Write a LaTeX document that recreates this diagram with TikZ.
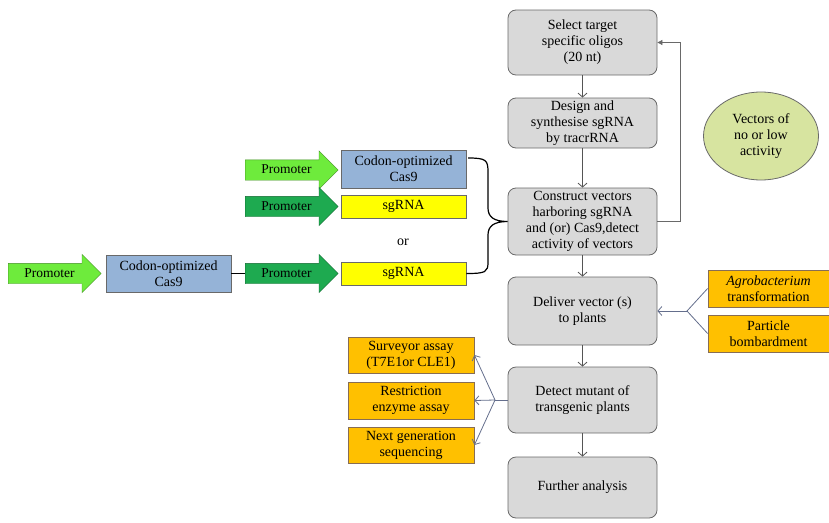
\documentclass[tikz,border=0pt]{standalone}
\usepackage{fontspec}
\setmainfont{Liberation Serif}
\usetikzlibrary{shapes.geometric,shapes.arrows,arrows.meta}
\definecolor{boxgray}{RGB}{217,217,217}
\definecolor{edgegray}{RGB}{105,105,105}
\definecolor{linegray}{RGB}{85,85,85}
\definecolor{forkblue}{RGB}{100,110,140}
\definecolor{cas9blue}{RGB}{149,179,215}
\definecolor{rnayellow}{RGB}{255,255,0}
\definecolor{assayorange}{RGB}{255,192,0}
\definecolor{lightgreen}{RGB}{110,235,60}
\definecolor{darkgreen}{RGB}{30,170,80}
\definecolor{lowolive}{RGB}{215,228,160}
\begin{document}
\begin{tikzpicture}[x=1pt,y=-1pt,
    every node/.style={font=\fontsize{14}{16}\selectfont, align=center, inner sep=0pt},
    stepbox/.style={draw=edgegray, fill=boxgray, rounded corners=8pt, minimum width=149pt, line width=0.8pt},
    assaybox/.style={draw=edgegray!80!orange, fill=assayorange, line width=0.8pt},
    genebox/.style={draw=edgegray, minimum width=125pt, line width=0.8pt},
    promoter/.style={single arrow, draw=#1!60!black, fill=#1, single arrow head extend=9pt,
      minimum height=93pt, text height=9pt, text depth=2pt, inner ysep=4.5pt, anchor=tail,
      font=\fontsize{13.5}{15}\selectfont},
    flow/.style={draw=linegray, line width=0.8pt, -{Straight Barb[length=4pt,width=9pt]}},
    fork/.style={draw=forkblue, line width=0.8pt},
    forkflow/.style={fork, -{Straight Barb[length=4pt,width=9pt]}}]
  \useasboundingbox (0,0) rectangle (829,522);
  \node [stepbox, minimum height=65pt] (sel) at (582.5,42.5) {Select target\\specific oligos\\(20 nt)};
  \node [stepbox, minimum height=50pt] (des) at (582.5,123) {Design and\\synthesise sgRNA\\by tracrRNA};
  \node [stepbox, minimum height=67pt] (con) at (582.5,221.5) {Construct vectors\\harboring sgRNA\\and (or) Cas9,detect\\activity of vectors};
  \node [stepbox, minimum height=68pt] (del) at (582.5,311) {Deliver vector (s)\\to plants};
  \node [stepbox, minimum height=66pt] (det) at (582.5,400) {Detect mutant of\\transgenic plants};
  \node [stepbox, minimum height=61pt] (fur) at (582.5,487.5) {Further analysis};
  \node [ellipse, draw=edgegray, fill=lowolive, line width=0.8pt, minimum width=115pt, minimum height=88pt] (low) at (761,136) {Vectors of\\no or low\\activity};
  \node [assaybox, minimum width=121pt, minimum height=37pt] (agro) at (768.5,288.5) {\textit{Agrobacterium}\\transformation};
  \node [assaybox, minimum width=121pt, minimum height=37pt] (part) at (768.5,333.5) {Particle\\bombardment};
  \node [assaybox, minimum width=126pt, minimum height=36pt] (surv) at (411,355) {Surveyor assay\\(T7E1or CLE1)};
  \node [assaybox, minimum width=126pt, minimum height=37pt] (rest) at (411,400.5) {Restriction\\enzyme assay};
  \node [assaybox, minimum width=126pt, minimum height=36pt] (next) at (411,445) {Next generation\\sequencing};
  \node [genebox, fill=cas9blue, minimum height=38pt] (cas9b) at (403.5,169) {Codon-optimized\\Cas9};
  \node [genebox, fill=rnayellow, minimum height=23pt] (sga) at (403.5,206.5) {sgRNA};
  \node [genebox, fill=rnayellow, minimum height=23pt] (sgb) at (403.5,273.5) {sgRNA};
  \node [genebox, fill=cas9blue, minimum height=37pt] (cas9a) at (168.5,273.5) {Codon-optimized\\Cas9};
  \node [promoter=lightgreen] (proA) at (8,273.5) {Promoter};
  \node [promoter=lightgreen] (proB) at (245,170) {Promoter};
  \node [promoter=darkgreen] (proC) at (245,206.5) {Promoter};
  \node [promoter=darkgreen] (proD) at (245,273.5) {Promoter};
  \node (or) at (403,242) {or};
  \coordinate (fkr) at (687,311);
  \coordinate (fkl) at (495,400);
  \draw [flow] (sel) -- (des);
  \draw [flow] (des) -- (con);
  \draw [flow] (con) -- (del);
  \draw [flow] (del) -- (det);
  \draw [flow] (det) -- (fur);
  \draw [draw=edgegray, line width=0.8pt, -{Triangle[length=5pt,width=5pt]}] (con.east) -- ++(23,0) |- (sel.east);
  \draw [line width=0.8pt] (cas9a.east) -- (proD.tail);
  \draw [line width=1.2pt] (468,158) .. controls (486,158) and (488,160) .. (488,172) -- (488,208)
    .. controls (488,217) and (494,221.5) .. (con.west)
    .. controls (494,221.5) and (488,226) .. (488,235) -- (488,262)
    .. controls (488,272) and (486,273.5) .. (sgb.east);
  \draw [fork] (agro.west) -- (fkr) -- (part.west);
  \draw [forkflow] (fkr) -- (del.east);
  \draw [fork] (det.west) -- (fkl);
  \draw [forkflow] (fkl) -- (surv.east);
  \draw [forkflow] (fkl) -- (rest.east);
  \draw [forkflow] (fkl) -- (next.east);
\end{tikzpicture}
\end{document}
